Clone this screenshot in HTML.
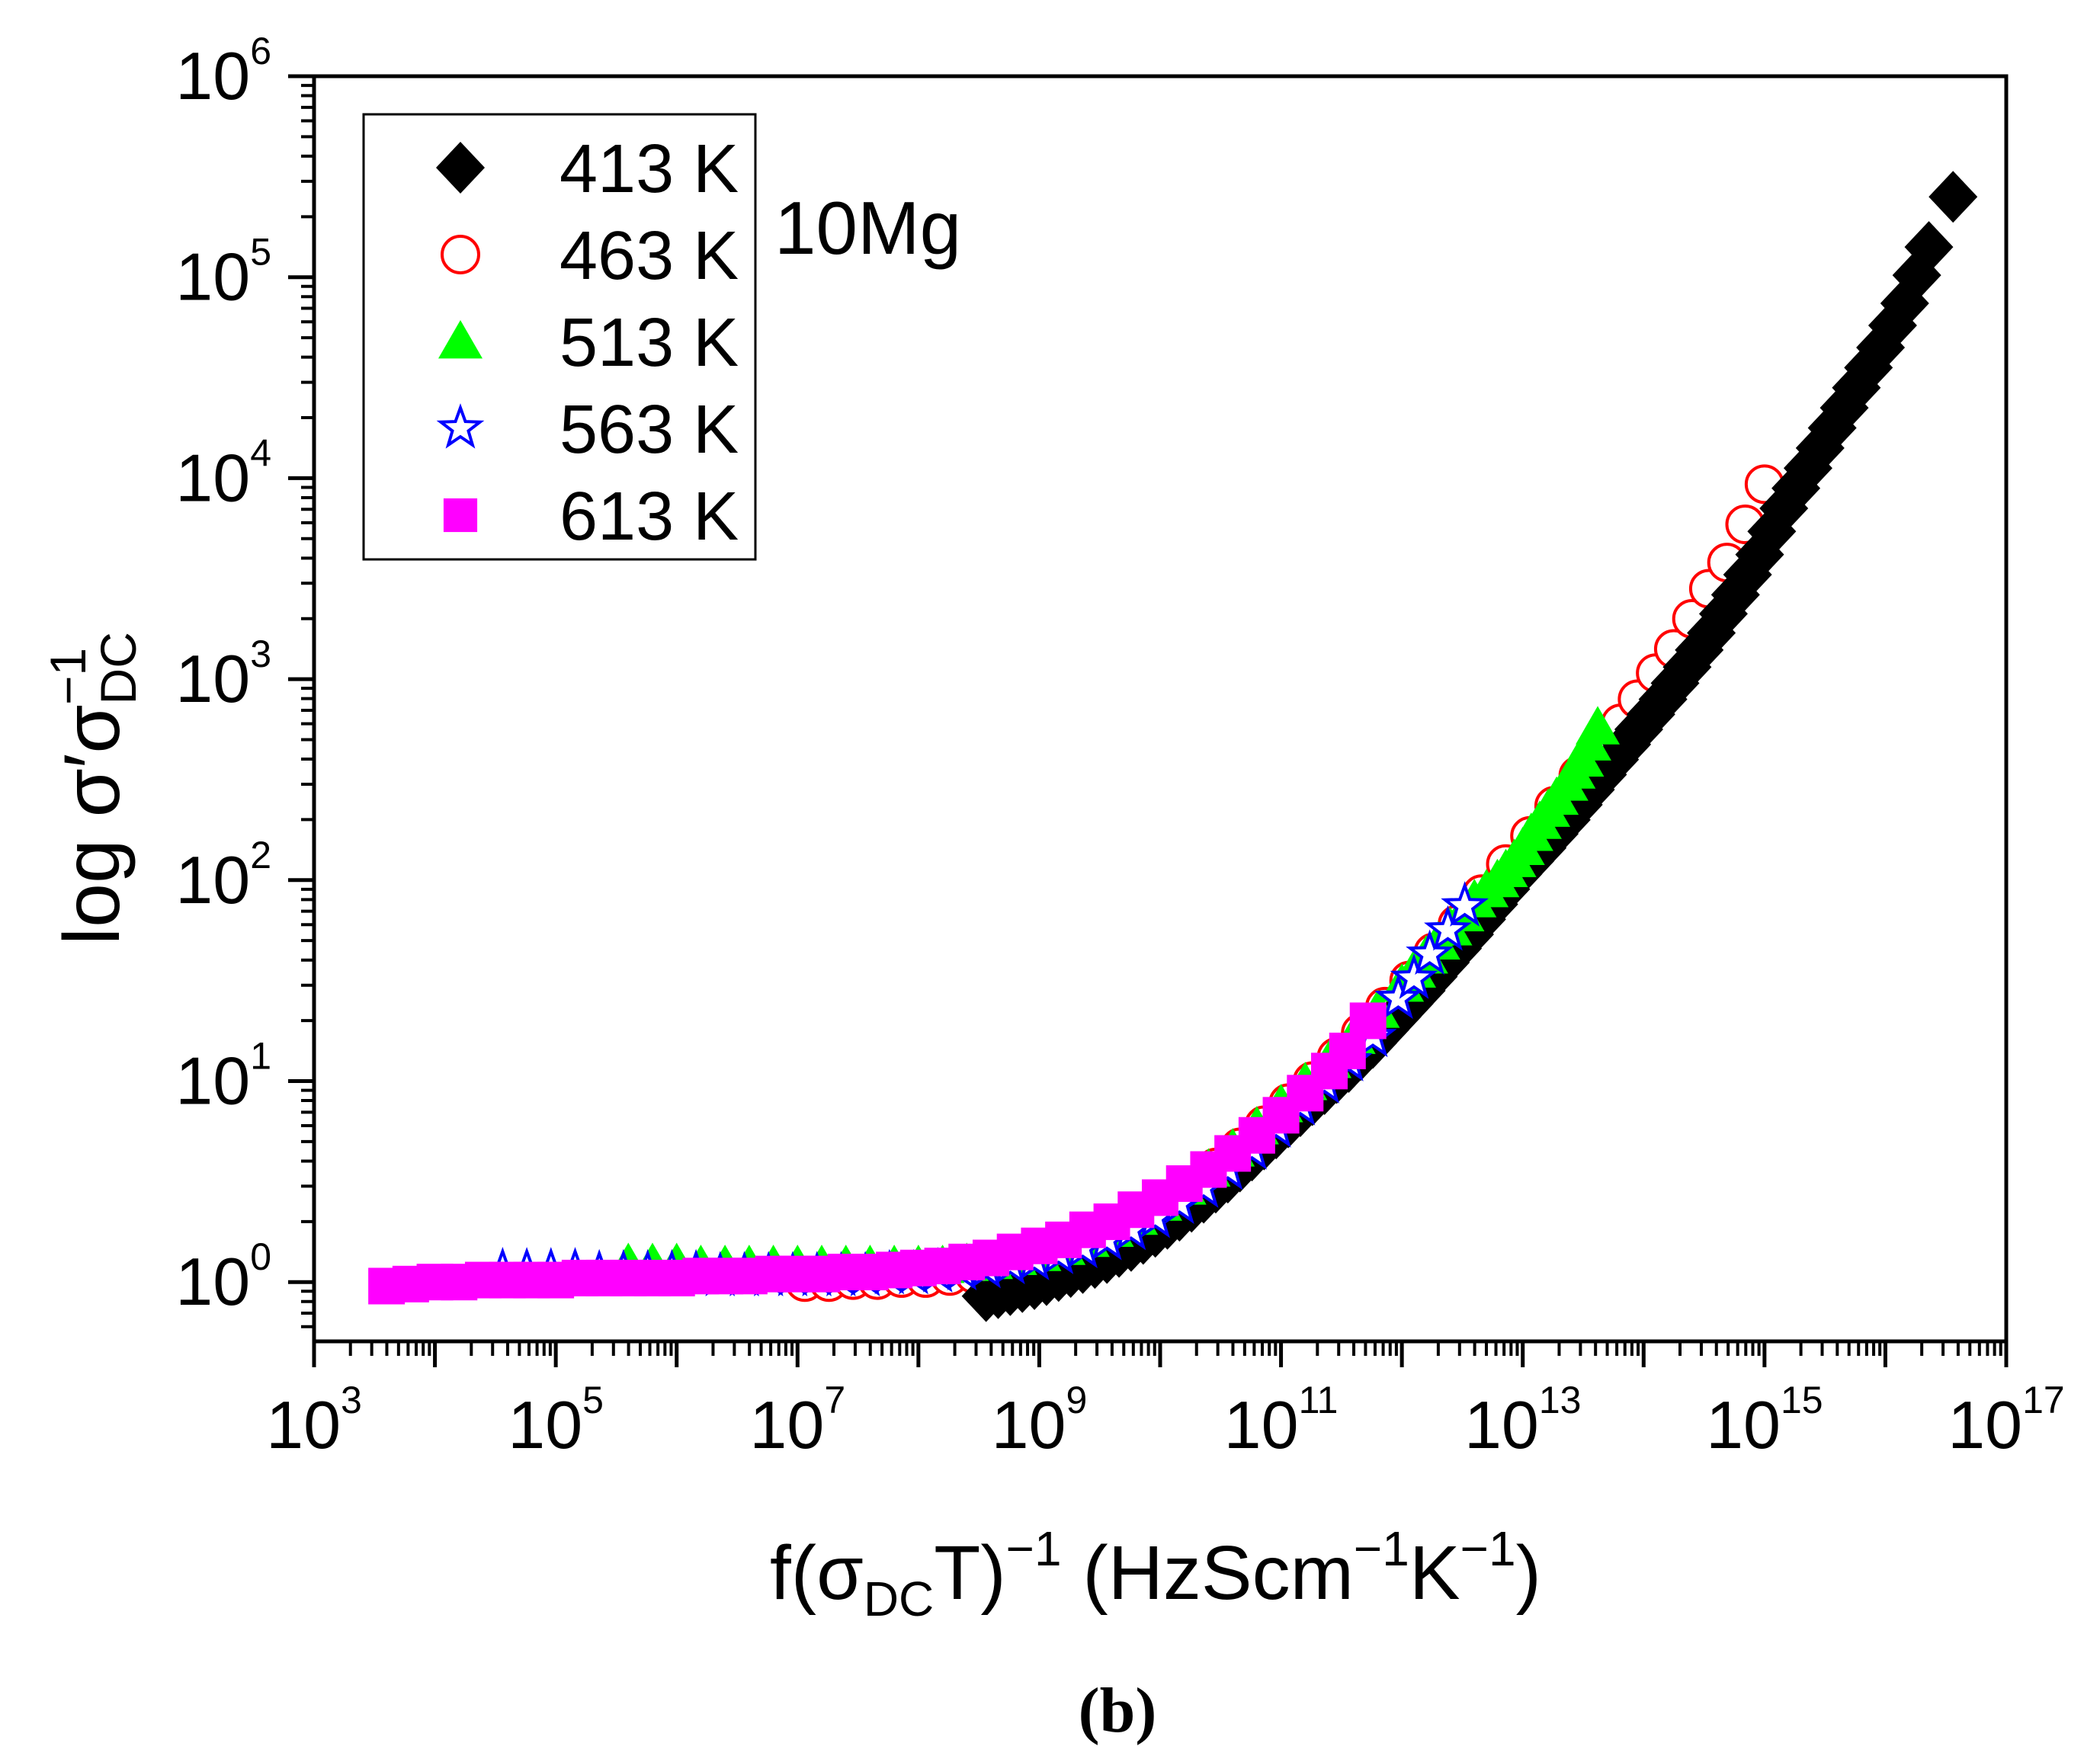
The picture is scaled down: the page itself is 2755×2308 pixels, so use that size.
<!DOCTYPE html>
<html><head><meta charset="utf-8"><style>
html,body{margin:0;padding:0;background:#fff;}
svg{display:block;font-family:"Liberation Sans",Arial,sans-serif;}
</style></head><body>
<svg id="chart" width="2755" height="2308" viewBox="0 0 2755 2308" xmlns="http://www.w3.org/2000/svg">
<rect x="0" y="0" width="2755" height="2308" fill="#fff"/>
<g id="marks"></g>
<g id="axes"></g>
<g id="legend">
<rect x="477" y="150" width="514" height="584" fill="none" stroke="#000" stroke-width="3"/>
</g>
<text x="1016" y="333" font-size="98">10Mg</text>
<text transform="translate(156,1240) rotate(-90)" font-size="104">log σ′σ<tspan font-size="66" dy="22">DC</tspan><tspan font-size="66" dy="-66" dx="-96">−1</tspan></text>
<text x="1010" y="2098" font-size="100">f(σ<tspan font-size="64" dy="22">DC</tspan><tspan dy="-22">T)</tspan><tspan font-size="64" dy="-44">−1</tspan><tspan dy="44"> (HzScm</tspan><tspan font-size="64" dy="-44">−1</tspan><tspan dy="44">K</tspan><tspan font-size="64" dy="-44">−1</tspan><tspan dy="44">)</tspan></text>
<text x="1466" y="2272" font-size="84" font-weight="bold" text-anchor="middle" font-family="Liberation Serif, serif">(b)</text>
</svg>
<script>
const xTickExps = [3,5,7,9,11,13,15,17];
const yTickExps = [0,1,2,3,4,5,6];
const seriesNames = ["413 K","463 K","513 K","563 K","613 K"];
const lx413 = [8.56,8.66,8.76,8.86,8.96,9.06,9.16,9.26,9.36,9.46,9.56,9.66,9.76,9.86,9.96,10.06,10.16,10.26,10.36,10.46,10.56,10.66,10.76,10.86,10.96,11.06,11.16,11.26,11.36,11.46,11.56,11.66,11.76,11.86,11.96,12.06,12.16,12.26,12.36,12.46,12.56,12.66,12.76,12.86,12.96,13.06,13.16,13.26,13.36,13.46,13.56,13.66,13.76,13.86,13.96,14.06,14.16,14.26,14.36,14.46,14.56,14.66,14.76,14.86,14.96,15.06,15.16,15.26,15.36,15.46,15.56,15.66,15.76,15.86,15.96,16.06,16.16,16.26,16.36,16.56];
const ly413 = [-0.07,-0.055,-0.04,-0.025,-0.01,0.01,0.03,0.05,0.07,0.095,0.12,0.15,0.18,0.215,0.25,0.29,0.33,0.375,0.42,0.47,0.52,0.575,0.63,0.685,0.74,0.795,0.85,0.905,0.96,1.015,1.07,1.13,1.19,1.255,1.32,1.385,1.45,1.52,1.59,1.66,1.73,1.805,1.88,1.955,2.03,2.095,2.16,2.23,2.3,2.375,2.45,2.525,2.6,2.675,2.75,2.825,2.9,2.98,3.06,3.145,3.23,3.325,3.42,3.52,3.62,3.735,3.85,3.95,4.05,4.15,4.25,4.35,4.45,4.55,4.65,4.76,4.87,5.01,5.15,5.4];
const lx463 = [7.06,7.26,7.46,7.66,7.86,8.06,8.26,8.46,8.66,8.86,9.06,9.26,9.46,9.66,9.86,10.06,10.26,10.46,10.66,10.86,11.06,11.26,11.46,11.66,11.86,12.06,12.26,12.46,12.66,12.86,13.06,13.26,13.46,13.66,13.81,13.95,14.1,14.25,14.4,14.54,14.69,14.84,15.0];
const ly463 = [0.0,0.0,0.01,0.01,0.02,0.02,0.03,0.04,0.05,0.07,0.1,0.14,0.19,0.25,0.32,0.4,0.48,0.57,0.67,0.78,0.89,1.0,1.12,1.24,1.37,1.5,1.64,1.78,1.93,2.08,2.22,2.37,2.52,2.66,2.78,2.9,3.03,3.15,3.3,3.45,3.58,3.77,3.97];
const lx513 = [5.6,5.8,6.0,6.2,6.4,6.6,6.8,7.0,7.2,7.4,7.6,7.8,8.0,8.2,8.4,8.6,8.8,9.0,9.2,9.4,9.6,9.8,10.0,10.2,10.4,10.6,10.8,11.0,11.2,11.4,11.6,11.8,12.0,12.1,12.2,12.3,12.4,12.5,12.6,12.7,12.79,12.86,12.93,13.0,13.07,13.14,13.21,13.28,13.36,13.42,13.49,13.55,13.62];
const ly513 = [0.09,0.09,0.09,0.08,0.08,0.08,0.08,0.08,0.08,0.08,0.08,0.08,0.08,0.08,0.09,0.1,0.12,0.14,0.17,0.21,0.26,0.32,0.39,0.47,0.56,0.66,0.77,0.88,0.99,1.1,1.22,1.35,1.48,1.55,1.62,1.69,1.76,1.83,1.9,1.95,2.0,2.05,2.1,2.16,2.23,2.29,2.35,2.41,2.48,2.54,2.6,2.68,2.76];
const lx563 = [4.56,4.76,4.96,5.16,5.36,5.56,5.76,5.96,6.16,6.36,6.56,6.76,6.96,7.16,7.36,7.56,7.76,7.96,8.16,8.36,8.56,8.76,8.96,9.16,9.36,9.56,9.76,9.96,10.16,10.36,10.56,10.76,10.96,11.16,11.36,11.56,11.76,11.97,12.1,12.23,12.38,12.52];
const ly563 = [0.05,0.05,0.05,0.05,0.04,0.04,0.04,0.04,0.04,0.03,0.03,0.03,0.03,0.03,0.03,0.03,0.04,0.04,0.05,0.06,0.07,0.09,0.11,0.14,0.17,0.21,0.26,0.32,0.39,0.47,0.56,0.66,0.77,0.88,0.99,1.1,1.22,1.41,1.51,1.63,1.75,1.87];
const lx613 = [3.6,3.8,4.0,4.2,4.4,4.6,4.8,5.0,5.2,5.4,5.6,5.8,6.0,6.2,6.4,6.6,6.8,7.0,7.2,7.4,7.6,7.8,8.0,8.2,8.4,8.6,8.8,9.0,9.2,9.4,9.6,9.8,10.0,10.2,10.4,10.6,10.8,11.0,11.2,11.4,11.55,11.72];
const ly613 = [-0.02,-0.01,0,0,0.01,0.01,0.01,0.01,0.02,0.02,0.02,0.02,0.02,0.03,0.03,0.03,0.04,0.04,0.04,0.05,0.05,0.06,0.07,0.08,0.1,0.12,0.15,0.18,0.21,0.26,0.3,0.36,0.42,0.49,0.56,0.64,0.73,0.83,0.94,1.05,1.15,1.3];

const NS="http://www.w3.org/2000/svg";
const X0=412,X1=2632,Y0=1760,Y1=100;
const XMIN=3,XMAX=17,YMIN=-0.295,YMAX=6;
function sx(l){return X0+(l-XMIN)/(XMAX-XMIN)*(X1-X0);}
function sy(l){return Y0-(l-YMIN)/(YMAX-YMIN)*(Y0-Y1);}
function mk(tag,attrs,parent){const e=document.createElementNS(NS,tag);for(const k in attrs)e.setAttribute(k,attrs[k]);parent.appendChild(e);return e;}

function marker(type,cx,cy,parent,scale){
  const s=scale||1;let e;
  if(type==="diamond"){
    const h=34*s,w=32*s;
    e=mk("polygon",{points:`${cx},${cy-h} ${cx+w},${cy} ${cx},${cy+h} ${cx-w},${cy}`,fill:"#000"},parent);
  }else if(type==="circle"){
    e=mk("circle",{cx:cx,cy:cy,r:24*s,fill:"#fff",stroke:"#ff0000","stroke-width":4},parent);
  }else if(type==="triangle"){
    const h=28*s,w=29*s;
    e=mk("polygon",{points:`${cx},${cy-h} ${cx+w},${cy+h*0.8} ${cx-w},${cy+h*0.8}`,fill:"#00ff00"},parent);
  }else if(type==="star"){
    let p=[];const R=27*s,r=11*s;
    for(let i=0;i<10;i++){const a=-Math.PI/2+i*Math.PI/5;const rr=i%2?r:R;p.push((cx+rr*Math.cos(a)).toFixed(1)+","+(cy+rr*Math.sin(a)).toFixed(1));}
    e=mk("polygon",{points:p.join(" "),fill:"#fff",stroke:"#0000ff","stroke-width":4},parent);
  }else{
    const a=24*s;
    e=mk("rect",{x:cx-a,y:cy-a,width:2*a,height:2*a,fill:"#ff00ff"},parent);
  }
  return e;
}

const marks=document.getElementById("marks");
const series=[
  {lx:lx463,ly:ly463,t:"circle",n:"series-463k"},
  {lx:lx413,ly:ly413,t:"diamond",n:"series-413k"},
  {lx:lx513,ly:ly513,t:"triangle",n:"series-513k"},
  {lx:lx563,ly:ly563,t:"star",n:"series-563k"},
  {lx:lx613,ly:ly613,t:"square",n:"series-613k"}
];
series.forEach(s=>{
  const g=mk("g",{},marks);
  
  
  for(let i=0;i<s.lx.length;i++){
    const m=marker(s.t,sx(s.lx[i]),sy(s.ly[i]),g);
    
    
  }
});

const axes=document.getElementById("axes");
const frame=mk("rect",{x:X0,y:Y1,width:X1-X0,height:Y0-Y1,fill:"none",stroke:"#000","stroke-width":5},axes);


for(let d=XMIN;d<=XMAX;d++){
  const x=sx(d);
  mk("line",{x1:x,y1:Y0,x2:x,y2:Y0+34,stroke:"#000","stroke-width":5},axes);
  if(d<XMAX){for(let m=2;m<=9;m++){const xm=sx(d+Math.log10(m));mk("line",{x1:xm,y1:Y0,x2:xm,y2:Y0+19,stroke:"#000","stroke-width":4},axes);}}
}
xTickExps.forEach(e=>{
  const t=mk("text",{x:sx(e),y:1900,"font-size":88,"text-anchor":"middle"},axes);
  
  
  t.innerHTML=`10<tspan font-size="50" dy="-46">${e}</tspan>`;
});
for(let d=0;d<=6;d++){
  const y=sy(d);
  mk("line",{x1:X0,y1:y,x2:X0-34,y2:y,stroke:"#000","stroke-width":5},axes);
}
for(let d=-1;d<6;d++){
  for(let m=2;m<=9;m++){const v=d+Math.log10(m);if(v<YMIN)continue;const y=sy(v);mk("line",{x1:X0,y1:y,x2:X0-17,y2:y,stroke:"#000","stroke-width":4},axes);}
}
yTickExps.forEach(e=>{
  const t=mk("text",{x:356,y:sy(e)+30,"font-size":88,"text-anchor":"end"},axes);
  
  
  t.innerHTML=`10<tspan font-size="50" dy="-46">${e}</tspan>`;
});

const legend=document.getElementById("legend");
const ltypes=["diamond","circle","triangle","star","square"];
seriesNames.forEach((n,i)=>{
  const cy=220+i*114;
  const g=mk("g",{},legend);
  
  
  marker(ltypes[i],604,cy,g,i===4?0.92:1);
  const t=mk("text",{x:734,y:cy+32,"font-size":90},g);
  t.textContent=n;
});
</script>
</body></html>
